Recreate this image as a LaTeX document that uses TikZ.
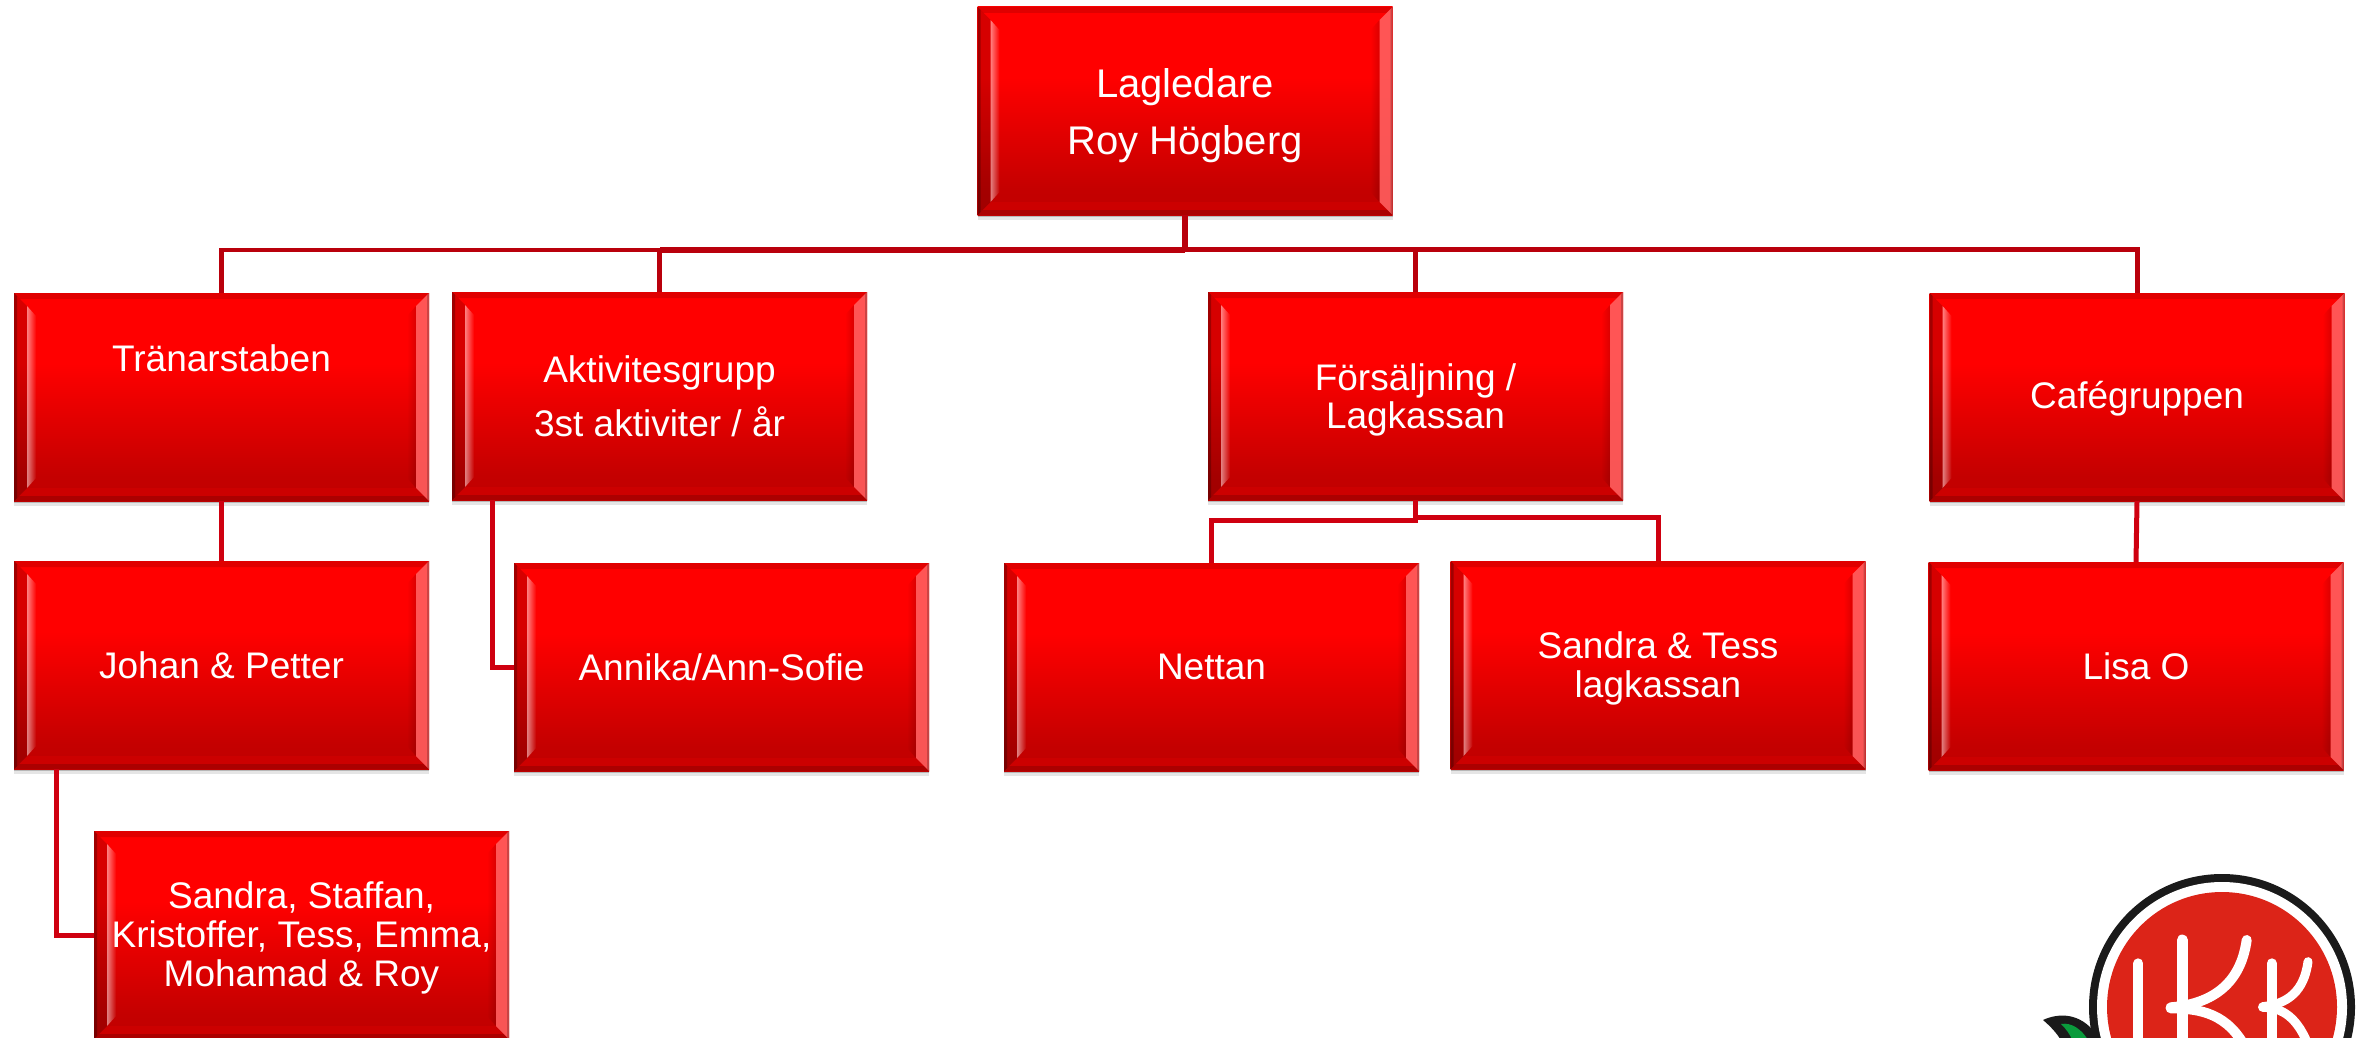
\documentclass[tikz,border=0pt]{standalone}
\usepackage{fontspec}
\setmainfont{Liberation Sans}
\usetikzlibrary{shadows,fadings}
\definecolor{busdark}{HTML}{B9000C}
\definecolor{linkred}{HTML}{CF0010}
\definecolor{logored}{HTML}{DC2418}
\definecolor{logoblack}{HTML}{1A1A1A}
\definecolor{leafgreen}{HTML}{0A9B3C}
\definecolor{facelow}{HTML}{C00000}
\definecolor{facemid}{HTML}{C40000}
\definecolor{facetop}{HTML}{FF0000}
\definecolor{bevelbase}{HTML}{CC0000}
\definecolor{bevelpink}{HTML}{FF5F5F}
\pgfdeclareverticalshading{boxface}{100bp}{color(0bp)=(facelow); color(25bp)=(facelow); color(31bp)=(facemid); color(58bp)=(facetop); color(100bp)=(facetop)}
\newcommand{\bevelover}[1]{%
  \begin{scope}[shift={(#1.north west)}]
    \fill[black,opacity=.12] (0,0)--(415,0)--(409,6)--(6,6)--cycle;
    \fill[bevelbase] (0,208)--(13,195)--(402,195)--(415,208)--cycle;
    \fill[black,opacity=.16] (0,208)--(5,203)--(410,203)--(415,208)--cycle;
    \fill[black,opacity=.16] (0,0)--(13,13)--(13,195)--(0,208)--cycle;
    \fill[black,opacity=.25] (0,0)--(3,3)--(3,205)--(0,208)--cycle;
    \fill[white,opacity=.5,path fading=east] (13,13)--(22,23)--(22,185)--(13,195)--cycle;
    \fill[black,opacity=.14,path fading=west] (393,23)--(402,13)--(402,195)--(393,185)--cycle;
    \fill[bevelpink,opacity=.9] (415,0)--(402,13)--(402,195)--(415,208)--cycle;
    \fill[black,opacity=.2] (415,0)--(413,2)--(413,206)--(415,208)--cycle;
  \end{scope}}
\tikzset{
  bevelbox/.style={rectangle,inner sep=0pt,outer sep=0pt,minimum width=415pt,minimum height=208pt,
    shading=boxface,
    drop shadow={shadow xshift=0pt,shadow yshift=-5pt,fill=black,opacity=.10},
    drop shadow={shadow xshift=0pt,shadow yshift=-2pt,fill=black,opacity=.20},
    text=white,align=center,font=\fontsize{37}{39}\selectfont},
  busline/.style={draw=busdark,line width=4.5pt},
  busthick/.style={draw=busdark,line width=6.5pt},
  linkline/.style={draw=linkred,line width=5pt},
  logoletter/.style={draw=white,line cap=round}
}
\begin{document}
\begin{tikzpicture}[x=1pt,y=-1pt]
\useasboundingbox (0,0) rectangle (2356,1038);
\clip (0,0) rectangle (2356,1038);
% logo
\begin{scope}
  \fill[logoblack] (2043,1020) .. controls (2058,1013) and (2080,1012) .. (2096,1034) -- (2096,1042) -- (2062,1042) .. controls (2057,1033) and (2050,1026) .. (2043,1020) -- cycle;
  \fill[leafgreen] (2061,1024) .. controls (2072,1022) and (2082,1030) .. (2088,1040) -- (2072,1040) .. controls (2070,1034) and (2066,1029) .. (2061,1024) -- cycle;
  \fill[logoblack] (2222,1007) circle (133);
  \fill[white] (2222,1007) circle (125);
  \fill[logored] (2222,1007) circle (115);
  \begin{scope}[shift={(1980,820)},scale=1/3]
    \draw[logoletter,line width=10pt] (475,430) -- (475,800);
    \draw[logoletter,line width=11pt] (607,360) -- (607,800);
    \draw[logoletter,line width=10pt] (800,360) .. controls (785,470) and (720,550) .. (572,562);
    \draw[logoletter,line width=10pt] (572,565) .. controls (660,565) and (745,580) .. (800,690);
    \draw[logoletter,line width=10pt] (875,430) -- (875,800);
    \draw[logoletter,line width=9pt] (984,425) .. controls (975,490) and (945,550) .. (848,560);
    \draw[logoletter,line width=9pt] (848,562) .. controls (905,562) and (955,590) .. (990,690);
  \end{scope}
\end{scope}
% boxes
\node[bevelbox,font=\fontsize{40}{42}\selectfont] (lag) at (1185,111) {\rule{0pt}{38pt}Lagledare\\[15pt]Roy Högberg};
\node[bevelbox] (trn) at (221.5,397) {Tränarstaben\\[38pt]~};
\node[bevelbox] (akt) at (659.5,396) {Aktivitesgrupp\\[15pt]3st aktiviter / år};
\node[bevelbox] (fors) at (1415.5,396) {\rule{0pt}{35pt}Försäljning /\\[-1pt]Lagkassan};
\node[bevelbox] (cafe) at (2137,397) {\rule{0pt}{30pt}Cafégruppen};
\node[bevelbox] (joh) at (221.5,665) {Johan \& Petter};
\node[bevelbox] (ann) at (721.5,667) {Annika/Ann-Sofie};
\node[bevelbox] (net) at (1211.5,667) {Nettan};
\node[bevelbox] (st) at (1658,665) {\rule{0pt}{33pt}Sandra \& Tess\\lagkassan};
\node[bevelbox] (lisa) at (2136,666) {Lisa O};
\node[bevelbox] (san) at (301.5,935) {\rule{0pt}{33pt}Sandra, Staffan,\\Kristoffer, Tess, Emma,\\Mohamad \& Roy};
\foreach \boxname in {lag,trn,akt,fors,cafe,joh,ann,net,st,lisa,san}{\bevelover{\boxname}}
% connector bends
\coordinate (busL) at (659.5,250);
\coordinate (busR) at (1415.5,249);
\coordinate (forsL) at (1300,520);
\coordinate (forsR) at (1500,517);
% connectors
\draw[busline] (busL) -| (trn.north);
\draw[busline,line width=5pt] (lag.south) |- (busR) -| (fors.north);
\draw[busline,line width=5pt] (busR) -| (cafe.north);
\draw[busline] (busL) -- (akt.north);
\draw[busthick] (lag.south |- busL) -- (busL);
\draw[busline,line width=6pt] (lag.south) -- (lag.south |- busL);
\draw[linkline] (trn.south) -- (joh.north);
\draw[linkline] ([xshift=40pt]akt.south west) |- (ann.west);
\draw[linkline] ([xshift=42pt]joh.south west) |- (san.west);
\draw[linkline] (fors.south) |- (forsL) -| (net.north);
\draw[linkline] (fors.south) |- (forsR) -| (st.north);
\draw[linkline] (cafe.south) -- (lisa.north);
\end{tikzpicture}
\end{document}
